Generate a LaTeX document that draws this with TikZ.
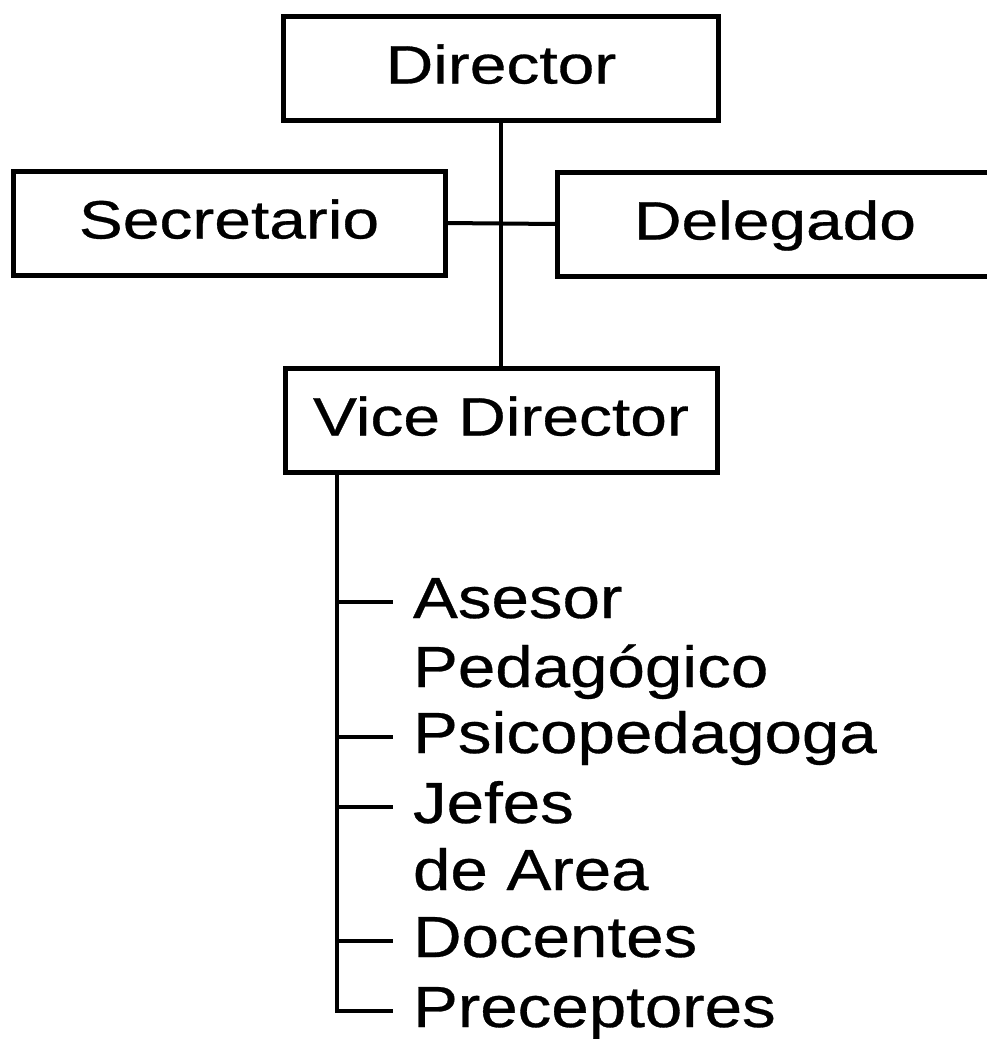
\documentclass[tikz,border=0pt]{standalone}
\usepackage{fontspec}
\setmainfont{Liberation Sans}[FakeBold=0.5]
\usetikzlibrary{calc}
% horizontally widened lettering
\newcommand\widetext[2]{\scalebox{#1}[1]{#2}}

\begin{document}
\begin{tikzpicture}[x=1pt,y=-1pt,
  orgbox/.style={draw, rectangle, line width=5pt, minimum width=432pt,
    minimum height=104pt, inner sep=0pt, outer sep=0pt,
    font=\fontsize{54}{64}\selectfont, text height=39pt, text depth=8pt},
  item/.style={anchor=base west, inner xsep=20pt, inner ysep=0pt, outer sep=0pt,
    font=\fontsize{58}{68}\selectfont, text height=41pt, text depth=8pt},
  link/.style={line width=4pt},
]
\useasboundingbox (0,0) rectangle (987,1039);

% boxes
\node[orgbox, minimum width=435pt] (dir) at (501,68)  {\widetext{1.22}{Director}};
\node[orgbox] (sec) at (229,223) {\widetext{1.22}{Secretario}};
\node[orgbox, minimum width=436pt] (del) at (775,224) {\widetext{1.22}{Delegado}};
\node[orgbox] (vd)  at (501,420) {\widetext{1.22}{Vice Director}};

% upper links
\draw[link] (dir.south) -- (vd.north);
\draw[link] (sec.east) -- (del.west);

% list of staff under the vice director
\node[item] (ase) at (393,618)  {\widetext{1.16}{Asesor}};
\node[item] (ped) at (393,687)  {\widetext{1.16}{Pedagógico}};
\node[item] (psi) at (393,753)  {\widetext{1.16}{Psicopedagoga}};
\node[item] (jef) at (393,823)  {\widetext{1.16}{Jefes}};
\node[item] (are) at (393,890)  {\widetext{1.16}{de Area}};
\node[item] (doc) at (393,957)  {\widetext{1.16}{Docentes}};
\node[item] (pre) at (393,1027) {\widetext{1.16}{Preceptores}};

\coordinate (trunk) at ($(vd.south west)+(52,0)$);
\draw[link] (trunk) |- (pre.west);
\foreach \n in {ase,psi,jef,doc}
  \draw[link] (trunk |- \n.west) -- (\n.west);
\end{tikzpicture}
\end{document}
